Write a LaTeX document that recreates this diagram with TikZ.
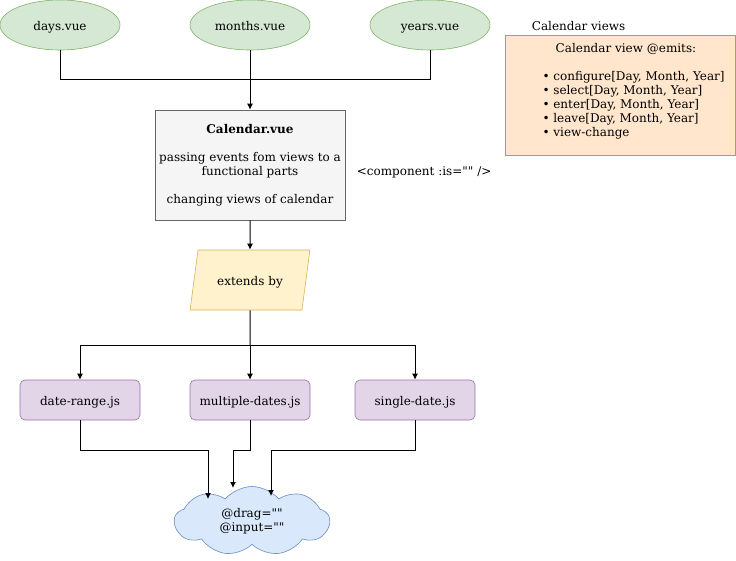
\documentclass[tikz,border=0pt]{standalone}
\usepackage{fontspec}
\setmainfont{DejaVu Serif}[Ligatures=TeXOff]
\usetikzlibrary{shapes.geometric,shapes.symbols,arrows.meta}
\definecolor{viewfill}{HTML}{D5E8D4}
\definecolor{viewline}{HTML}{82B366}
\definecolor{mainfill}{HTML}{F5F5F5}
\definecolor{mainline}{HTML}{666666}
\definecolor{extfill}{HTML}{FFF2CC}
\definecolor{extline}{HTML}{D6B656}
\definecolor{partfill}{HTML}{E1D5E7}
\definecolor{partline}{HTML}{9673A6}
\definecolor{cloudfill}{HTML}{DAE8FC}
\definecolor{cloudline}{HTML}{6C8EBF}
\definecolor{emitfill}{HTML}{FFE6CC}
\definecolor{emitline}{HTML}{D79B00}

\begin{document}
\begin{tikzpicture}[x = 1pt, y = -1pt, line width = 1pt,
                        font = \fontsize{12}{14}\selectfont,
                        low/.style = {text height = 13pt, text depth = 2pt},
                        view/.style = {ellipse, low, draw = viewline, fill = viewfill, minimum width = 120pt, minimum height = 50pt, inner sep = 0pt, line width = 0.6pt},
                        main/.style = {rectangle, draw = mainline, fill = mainfill, minimum width = 190pt, minimum height = 110pt, align = center, line width = 0.6pt},
                        extend/.style = {trapezium, low, trapezium left angle = 71.57, trapezium right angle = 108.43, trapezium stretches = true, draw = extline, fill = extfill, minimum width = 120pt, minimum height = 60pt, inner sep = 0pt, line width = 0.6pt},
                        part/.style = {rectangle, low, rounded corners = 5pt, draw = partline, fill = partfill, minimum width = 120pt, minimum height = 40pt, line width = 0.6pt},
                        events/.style = {cloud, cloud puffs = 9, cloud puff arc = 100, aspect = 2.3, draw = cloudline, fill = cloudfill, minimum width = 155pt, minimum height = 69pt, inner sep = 0pt, align = center, line width = 0.6pt},
                        emits/.style = {rectangle, draw = emitline, fill = emitfill, minimum width = 230pt, minimum height = 120pt, line width = 0.6pt},
                        arrow/.style = {-{Latex[length = 6pt, width = 6pt]}}]
      \useasboundingbox (0, 0) rectangle (736, 561);
      % views
      \node [view] (days) at (60, 25) {days.vue};
      \node [view] (months) at (250, 25) {months.vue};
      \node [view] (years) at (430, 25) {years.vue};
      \node [main] (calendar) at (250, 165) {\textbf{Calendar.vue}\\[14pt]passing events fom views to a\\functional parts\\[14pt]changing views of calendar};
      \node [anchor = west, low] (component) at (353, 170) {<component :is="" />};
      \node [extend] (extends) at (250, 280) {extends by};
      \node [part] (range) at (80, 400) {date-range.js};
      \node [part] (multiple) at (250, 400) {multiple-dates.js};
      \node [part] (single) at (415, 400) {single-date.js};
      \node [events] (drag) at (252, 521) {@drag=""\\@input=""};
      % emits
      \node [anchor = west, low] (title) at (528, 25) {Calendar views};
      \node [emits] (emitbox) at (620, 95) {};
      \node [anchor = north] (emittitle) at (626, 40) {Calendar view @emits:};
      \node [anchor = north west, align = left, inner sep = 0pt] (emitlist) at (542, 71) {\textbullet\ configure[Day, Month, Year]\\\textbullet\ select[Day, Month, Year]\\\textbullet\ enter[Day, Month, Year]\\\textbullet\ leave[Day, Month, Year]\\\textbullet\ view-change};
      % joints
      \coordinate (top) at (250, 80);
      \coordinate (split) at (250, 345);
      \coordinate (k1) at (208, 450);
      \coordinate (k2) at (233, 450);
      \coordinate (k3) at (271, 450);
      \coordinate (in1) at (208, 499);
      \coordinate (in2) at (233, 488);
      \coordinate (in3) at (271, 496);
      \draw (days.south) |- (top);
      \draw (years.south) |- (top);
      \draw [arrow] (months.south) -- (calendar.north);
      \draw [arrow] (calendar.south) -- (extends.north);
      \draw (extends.south) -- (split);
      \draw [arrow] (split) -| (range.north);
      \draw [arrow] (split) -- (multiple.north);
      \draw [arrow] (split) -| (single.north);
      \draw [arrow] (range.south) |- (k1) -- (in1);
      \draw [arrow] (multiple.south) |- (k2) -- (in2);
      \draw [arrow] (single.south) |- (k3) -- (in3);
    \end{tikzpicture}
\end{document}
